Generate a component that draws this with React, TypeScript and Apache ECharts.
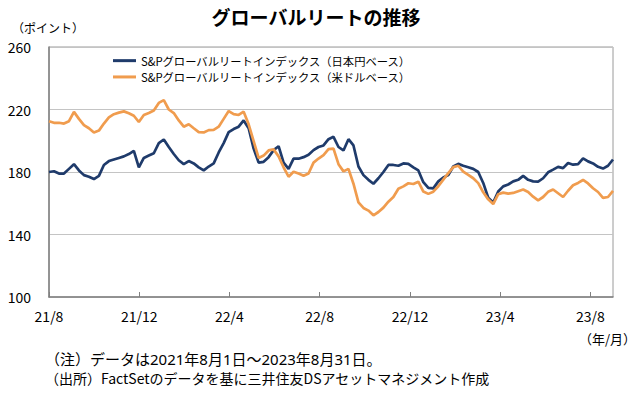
import React, { useEffect, useRef } from "react";
import * as echarts from "echarts";

const TITLE = "グローバルリートの推移";
const Y_UNIT = "（ポイント）";
const X_UNIT = "（年/月）";
const NOTES = [
  "（注）データは2021年8月1日～2023年8月31日。",
  "（出所）FactSetのデータを基に三井住友DSアセットマネジメント作成",
];
const SERIES_NAMES = [
  "S&Pグローバルリートインデックス（日本円ベース）",
  "S&Pグローバルリートインデックス（米ドルベース）",
];
// month-axis tick labels, one every 4 months starting 2021/8
const MONTH_LABELS = ["21/8", "21/12", "22/4", "22/8", "22/12", "23/4", "23/8"];
const TOTAL_MONTHS = 25; // 2021/8/1 .. 2023/8/31
const Y_TICKS = [100, 140, 180, 220, 260];

// approximately weekly observations, 2021/8/1 .. 2023/8/31
const jpyValues = [
  180, 180.5, 179, 179, 182, 185, 181, 178, 177, 175.5,
  177.5, 184.5, 187, 188, 189, 190, 191.5, 193.5, 183, 189,
  190.5, 192, 198.5, 200.8, 196, 191.5, 187.5, 185, 187, 185.5,
  183, 181, 183.5, 185.5, 192.5, 198.5, 205.5, 207.5, 209, 213,
  208, 195, 186, 186.5, 189.5, 194, 196.5, 186, 182, 188.5,
  188.5, 189.5, 191, 194, 196, 197, 201, 202.5, 196, 193.8,
  201, 197, 183.5, 178, 175, 172.5, 176, 180, 184.5, 184.5,
  184, 185.5, 185.2, 183, 181, 173.5, 169.8, 169.5, 174, 176.5,
  178, 183.5, 185.2, 184, 183, 182, 180, 173, 163.5, 160.5,
  167.5, 170.8, 172, 174, 175, 177.5, 175, 174, 173.8, 176,
  179.8, 181.5, 183.3, 182.5, 185.8, 184.7, 185, 188.7, 186.8, 185.5,
  183.3, 182.2, 184, 188,
];
const usdValues = [
  212.5, 211.5, 211.5, 211, 212.5, 218.5, 214, 210, 208, 205.3,
  206.5, 211, 215, 217, 218, 218.8, 217.6, 216, 212, 216.5,
  217.8, 219.3, 224.2, 226, 220, 217.7, 213, 209, 210.6, 208,
  205.5, 205.3, 206.8, 207, 209, 214, 219, 217, 216.5, 218.6,
  210.5, 199.8, 189, 190.5, 193.8, 194.5, 190, 183, 177, 180.2,
  179, 177.6, 179, 186, 188.6, 190.8, 194.6, 195, 185, 180.4,
  182, 172.5, 160.6, 157, 155.3, 152.3, 154.4, 157.2, 161, 164,
  169.3, 170.8, 172.8, 172.3, 173.8, 167.5, 166, 167.4, 170.9, 175.1,
  179.3, 183.1, 184, 180.2, 178.1, 176, 172.9, 167, 162.5, 159.5,
  165.8, 166.8, 166.2, 166.6, 167.7, 168.8, 167.2, 164.2, 161.9, 164,
  167.3, 168.8, 166.4, 164, 168, 171.5, 173, 174.9, 172.7, 169.6,
  167.2, 163.4, 164, 167.9,
];

const NAVY = "#1F3B6B";
const ORANGE = "#F09C4E";

function toPoints(values: number[]) {
  const n = values.length - 1;
  return values.map((v, i) => [(i * TOTAL_MONTHS) / n, v]);
}

export default function App() {
  const ref = useRef<HTMLDivElement>(null);
  useEffect(() => {
    if (!ref.current) return;
    const chart = echarts.init(ref.current, null, { renderer: "svg" });
    const font = "'Noto Sans CJK JP', 'Noto Sans', sans-serif";
    const digitFont = "'Noto Sans', 'Noto Sans CJK JP', sans-serif";
    chart.setOption({
      animation: false,
      textStyle: { fontFamily: font },
      grid: {
        left: 49,
        right: 27,
        top: 47,
        bottom: 101,
        show: true,
        borderColor: "#9a9a9a",
        borderWidth: 1,
        backgroundColor: "transparent",
      },
      legend: {
        orient: "vertical",
        left: 108,
        top: 50,
        itemWidth: 23,
        itemHeight: 3,
        itemGap: 5,
        icon: "rect",
        textStyle: { fontSize: 11.3, color: "#000", fontFamily: font },
        data: SERIES_NAMES,
      },
      xAxis: {
        type: "value",
        min: 0,
        max: TOTAL_MONTHS,
        interval: 4,
        axisLine: { show: true, lineStyle: { color: "#808080", width: 1.5 } },
        axisTick: { show: true, inside: true, length: 5, lineStyle: { color: "#808080" } },
        splitLine: { show: false },
        axisLabel: {
          margin: 12,
          fontSize: 14,
          color: "#000",
          fontFamily: font,
          showMaxLabel: false,
          formatter: (v: number) => (v % 4 === 0 ? MONTH_LABELS[v / 4] ?? "" : ""),
        },
      },
      yAxis: {
        type: "value",
        min: Y_TICKS[0],
        max: Y_TICKS[Y_TICKS.length - 1],
        interval: 40,
        axisLine: { show: true, lineStyle: { color: "#808080", width: 1.5 } },
        axisTick: { show: false },
        splitLine: { show: true, lineStyle: { color: "#c4c4c4", width: 1 } },
        axisLabel: { margin: 18, fontSize: 14, color: "#000", fontFamily: font },
      },
      series: [
        {
          name: SERIES_NAMES[0],
          type: "line",
          data: toPoints(jpyValues),
          symbol: "none",
          lineStyle: { color: NAVY, width: 2.7 },
          itemStyle: { color: NAVY },
        },
        {
          name: SERIES_NAMES[1],
          type: "line",
          data: toPoints(usdValues),
          symbol: "none",
          lineStyle: { color: ORANGE, width: 2.7 },
          itemStyle: { color: ORANGE },
        },
      ],
      graphic: [
        {
          type: "text",
          x: 316,
          y: 16,
          style: {
            text: TITLE,
            fontSize: 19,
            fontWeight: "bold",
            fill: "#000",
            fontFamily: font,
            align: "center",
            verticalAlign: "middle",
          },
        },
        {
          type: "text",
          x: 12,
          y: 27,
          style: { text: Y_UNIT, fontSize: 12, fill: "#000", fontFamily: font, verticalAlign: "middle" },
        },
        {
          type: "text",
          x: 636,
          y: 338,
          style: { text: X_UNIT, fontSize: 13, fill: "#000", fontFamily: font, align: "right", verticalAlign: "middle" },
        },
        {
          type: "text",
          x: 45,
          y: 359,
          style: { text: NOTES[0], fontSize: 15, fill: "#000", fontFamily: digitFont, verticalAlign: "middle" },
        },
        {
          type: "text",
          x: 45,
          y: 378,
          style: { text: NOTES[1], fontSize: 14, fill: "#000", fontFamily: font, verticalAlign: "middle" },
        },
      ],
    });
    return () => chart.dispose();
  }, []);
  return (
    <div
      ref={ref}
      style={{ position: "fixed", left: 0, top: 0, width: 640, height: 398, background: "#fff" }}
    />
  );
}
